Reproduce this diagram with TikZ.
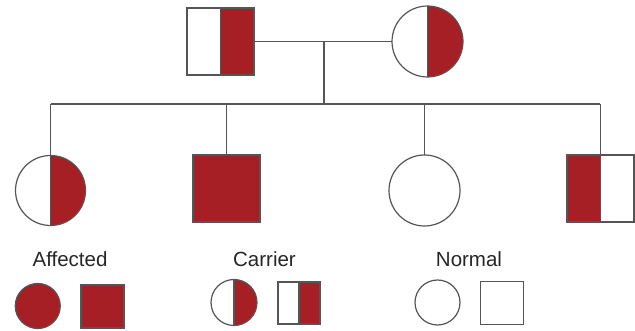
\documentclass[tikz,border=0pt]{standalone}
\usepackage{fontspec}
\setmainfont{Liberation Sans}
\definecolor{dred}{HTML}{A51F24}
\definecolor{linec}{HTML}{555555}
\begin{document}
\begin{tikzpicture}[x=1pt,y=-1pt,
  base/.style={draw=linec, line width=1.2pt, inner sep=0pt, outer sep=0pt},
  male/.style={base, rectangle, minimum width=#1, minimum height=#1},
  female/.style={base, circle, minimum size=#1},
  full/.style={fill=dred},
  rhalf/.style={path picture={\fill[dred] (path picture bounding box.north) rectangle (path picture bounding box.south east);
      \draw[linec, line width=1.2pt] (path picture bounding box.north) -- (path picture bounding box.south);}},
  lhalf/.style={path picture={\fill[dred] (path picture bounding box.north west) rectangle (path picture bounding box.south);
      \draw[linec, line width=1.2pt] (path picture bounding box.north) -- (path picture bounding box.south);}},
  conn/.style={draw=linec, line width=1.2pt},
  lbl/.style={anchor=base, inner sep=0pt, font=\fontsize{20.5}{24}\selectfont, text=black!85}
]
\useasboundingbox (0,0) rectangle (635,331);
% parents
\node[male=67pt, rhalf] (father) at (220.5,41.5) {};
\node[female=71pt, rhalf] (mother) at (427.5,41.5) {};
\coordinate (mid) at (324,41.5);
\coordinate (sib) at (324,104);
\coordinate (sL) at (50.5,104);
\coordinate (sR) at (600,104);
\draw[conn] (father) -- (mother);
\draw[conn] (mid) -- (sib);
\draw[conn] (sL) -- (sR);
% children
\node[female=70pt, rhalf] (c1) at (50.5,190.5) {};
\node[male=67pt, full] (c2) at (226.5,188.5) {};
\node[female=71pt] (c3) at (424.5,190.5) {};
\node[male=67pt, lhalf] (c4) at (600.5,188.5) {};
\draw[conn] (c1.north) -- (c1.north |- sib);
\draw[conn] (c2.north) -- (c2.north |- sib);
\draw[conn] (c3.north) -- (c3.north |- sib);
\draw[conn] (c4.north) -- (c4.north |- sib);
% legend
\node[lbl] (laff) at (70,266.7) {Affected};
\node[lbl] (lcar) at (264.5,266.7) {Carrier};
\node[lbl] (lnor) at (469,266.7) {Normal};
\node[female=45pt, full] (af) at (37.75,306) {};
\node[male=43pt, full] (am) at (102.5,306.5) {};
\node[female=46pt, rhalf] (cf) at (234,302.5) {};
\node[male=42pt, rhalf] (cm) at (299,303) {};
\node[female=45pt] (nf) at (437.5,302.5) {};
\node[male=43pt] (nm) at (502,303) {};
\end{tikzpicture}
\end{document}
